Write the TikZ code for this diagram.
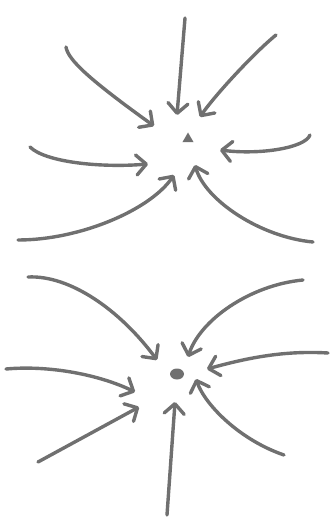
\documentclass[tikz,border=0pt]{standalone}
\usetikzlibrary{arrows.meta,shapes.geometric}
\definecolor{pencil}{RGB}{112,112,112}
\begin{document}
\begin{tikzpicture}[
    x=1pt, y=-1pt,
    pull/.style={-{Straight Barb[length=10pt,width=20pt,round]}, line width=3.4pt, draw=pencil, line cap=round, line join=round},
    topdot/.style={regular polygon, regular polygon sides=3, fill=pencil, inner sep=0pt, minimum size=13pt},
    lowdot/.style={ellipse, fill=pencil, inner sep=0pt, minimum width=14pt, minimum height=11pt}
]
\useasboundingbox (0,0) rectangle (336,529);
% upper cluster
\node[topdot] (upper) at (188,139) {};
\coordinate (u1) at (66,47);   \coordinate (u1h) at (154,126);
\coordinate (u2) at (185,18);  \coordinate (u2h) at (177,115);
\coordinate (u3) at (276,35);  \coordinate (u3h) at (200,117);
\coordinate (u4) at (310,135); \coordinate (u4h) at (220,150);
\coordinate (u5) at (30,147);  \coordinate (u5h) at (148,164);
\coordinate (u6) at (18,240);  \coordinate (u6h) at (174,175);
\coordinate (u7) at (313,242); \coordinate (u7h) at (195,165);
\draw[pull] (u1) .. controls (68,60) and (90,80) .. (u1h);
\draw[pull] (u2) -- (u2h);
\draw[pull] (u3) .. controls (255,52) and (215,95) .. (u3h);
\draw[pull] (u4) .. controls (305,148) and (260,155) .. (u4h);
\draw[pull] (u5) .. controls (45,162) and (100,168) .. (u5h);
\draw[pull] (u6) .. controls (80,240) and (150,210) .. (u6h);
\draw[pull] (u7) .. controls (260,237) and (205,200) .. (u7h);
% lower cluster
\node[lowdot] (lower) at (177,374) {};
\coordinate (l1) at (28,277);  \coordinate (l1h) at (157,360);
\coordinate (l2) at (303,280); \coordinate (l2h) at (188,357);
\coordinate (l3) at (328,353); \coordinate (l3h) at (207,369);
\coordinate (l4) at (6,369);   \coordinate (l4h) at (135,392);
\coordinate (l5) at (38,462);  \coordinate (l5h) at (139,407);
\coordinate (l6) at (167,515); \coordinate (l6h) at (175,402);
\coordinate (l7) at (284,455); \coordinate (l7h) at (196,379);
\draw[pull] (l1) .. controls (70,275) and (120,310) .. (l1h);
\draw[pull] (l2) .. controls (250,285) and (200,320) .. (l2h);
\draw[pull] (l3) .. controls (280,350) and (240,360) .. (l3h);
\draw[pull] (l4) .. controls (50,365) and (100,375) .. (l4h);
\draw[pull] (l5) -- (l5h);
\draw[pull] (l6) -- (l6h);
\draw[pull] (l7) .. controls (240,440) and (205,405) .. (l7h);
\end{tikzpicture}
\end{document}
